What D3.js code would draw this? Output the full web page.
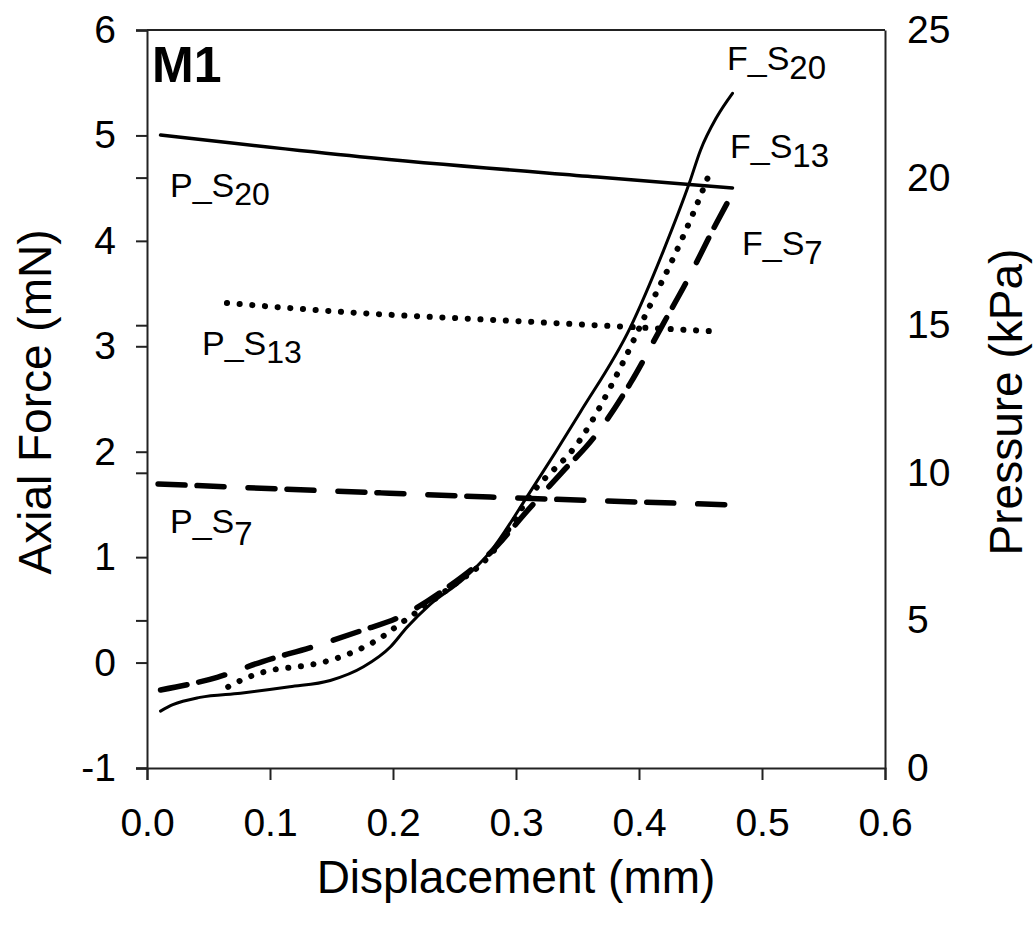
<!DOCTYPE html>
<html>
<head>
<meta charset="utf-8">
<script src="https://cdn.jsdelivr.net/npm/d3@7"></script>
<style>
  body { margin: 0; background: #fff; }
  svg { display: block; font-family: "Liberation Sans", Arial, sans-serif; }
  .axis text { fill: #000; }
</style>
</head>
<body>
<div id="chart"></div>
<script>
// displacement (mm) / axial force (mN)
var fS20x = [0.011, 0.021, 0.043, 0.076, 0.116, 0.149, 0.176, 0.198, 0.211, 0.230, 0.257, 0.279, 0.311, 0.352, 0.393, 0.420, 0.441, 0.450, 0.463, 0.476];
var fS20y = [-0.46, -0.40, -0.33, -0.29, -0.23, -0.17, -0.04, 0.15, 0.33, 0.55, 0.79, 1.05, 1.61, 2.37, 3.18, 3.91, 4.55, 4.86, 5.17, 5.40];

var fS13x = [0.066, 0.082, 0.102, 0.122, 0.142, 0.159, 0.177, 0.192, 0.199, 0.244, 0.279, 0.314, 0.352, 0.385, 0.407, 0.428, 0.444, 0.459];
var fS13y = [-0.23, -0.14, -0.07, -0.04, 0.00, 0.06, 0.15, 0.25, 0.31, 0.69, 1.02, 1.62, 2.11, 2.80, 3.34, 3.84, 4.26, 4.69];

var fS7x = [0.011, 0.057, 0.094, 0.135, 0.176, 0.203, 0.244, 0.279, 0.310, 0.337, 0.363, 0.393, 0.420, 0.439, 0.463, 0.476];
var fS7y = [-0.26, -0.14, 0.01, 0.15, 0.31, 0.42, 0.71, 1.04, 1.45, 1.80, 2.13, 2.65, 3.22, 3.62, 4.17, 4.45];

// displacement (mm) / pressure (kPa)
var pS20x = [0.011, 0.173, 0.366, 0.476];
var pS20y = [21.44, 20.71, 20.02, 19.65];
var pS13x = [0.065, 0.159, 0.300, 0.458];
var pS13y = [15.75, 15.45, 15.14, 14.80];
var pS7x = [0.009, 0.190, 0.279, 0.477];
var pS7y = [9.62, 9.32, 9.18, 8.91];

var xTicks = [0, 0.1, 0.2, 0.3, 0.4, 0.5, 0.6];
var forceTicks = [-1, 0, 1, 2, 3, 4, 5, 6];
var pressureTicks = [0, 5, 10, 15, 20, 25];

var fullWidth = 1033, fullHeight = 925;
// plot box edges in pixels
var plotLeft = 147, plotRight = 885, plotTop = 30, plotBottom = 768;

var svg = d3.select('#chart').append('svg')
  .attr('width', fullWidth)
  .attr('height', fullHeight);

var x = d3.scaleLinear().domain([0, 0.6]).range([plotLeft, plotRight]);
var yF = d3.scaleLinear().domain([-1, 6]).range([plotBottom, plotTop]);
var yP = d3.scaleLinear().domain([0, 25]).range([plotBottom, plotTop]);

var axisColor = '#222';
// plain hyphen for negatives, like the original
var intFormat = function(d) { return String(d); };

// bottom axis
var xAxis = d3.axisBottom(x)
  .tickValues(xTicks)
  .tickSize(12)
  .tickSizeOuter(12)
  .tickPadding(28)
  .tickFormat(d3.format('.1f'));
svg.append('g')
  .attr('class', 'axis')
  .attr('transform', 'translate(0,' + plotBottom + ')')
  .call(xAxis);

// left axis (force)
var yAxisF = d3.axisLeft(yF)
  .tickValues(forceTicks)
  .tickSize(11)
  .tickSizeOuter(11)
  .tickPadding(20)
  .tickFormat(intFormat);
svg.append('g')
  .attr('class', 'axis')
  .attr('transform', 'translate(' + plotLeft + ',0)')
  .call(yAxisF);

// pressure ticks sit on the left spine as well, without labels
svg.append('g')
  .attr('class', 'axis')
  .attr('transform', 'translate(' + plotLeft + ',0)')
  .call(d3.axisLeft(yP).tickValues(pressureTicks).tickSize(11).tickFormat(''))
  .select('.domain').remove();

// right axis (pressure): labels only
svg.append('g')
  .attr('class', 'axis')
  .attr('transform', 'translate(' + plotRight + ',0)')
  .call(d3.axisRight(yP).tickValues(pressureTicks).tickSize(0).tickSizeOuter(0).tickPadding(22).tickFormat(intFormat));

// top frame line
svg.append('line')
  .attr('x1', x(0)).attr('x2', x(0.6))
  .attr('y1', yF(6)).attr('y2', yF(6))
  .attr('stroke', axisColor).attr('stroke-width', 2);

svg.selectAll('.axis .domain, .axis .tick line')
  .attr('stroke', axisColor)
  .attr('stroke-width', 2);
svg.selectAll('.axis text')
  .attr('font-size', 39)
  .attr('font-family', '"Liberation Sans", Arial, sans-serif');

// axis titles
svg.append('text')
  .attr('x', (plotLeft + plotRight) / 2)
  .attr('y', 893)
  .attr('text-anchor', 'middle')
  .attr('font-size', 46)
  .text('Displacement (mm)');

svg.append('text')
  .attr('transform', 'translate(51,402) rotate(-90)')
  .attr('text-anchor', 'middle')
  .attr('font-size', 46)
  .text('Axial Force (mN)');

svg.append('text')
  .attr('transform', 'translate(1022,402) rotate(-90)')
  .attr('text-anchor', 'middle')
  .attr('font-size', 46)
  .text('Pressure (kPa)');

// lines
function pts(xs, ys) {
  return xs.map(function(d, i) { return [d, ys[i]]; });
}
var lineF = d3.line()
  .x(function(d) { return x(d[0]); })
  .y(function(d) { return yF(d[1]); })
  .curve(d3.curveMonotoneX);
var lineP = d3.line()
  .x(function(d) { return x(d[0]); })
  .y(function(d) { return yP(d[1]); })
  .curve(d3.curveMonotoneX);

var series = [
  { d: lineP(pts(pS20x, pS20y)), width: 3.5, dash: null },
  { d: lineP(pts(pS13x, pS13y)), width: 6, dash: '0.1,12.6' },
  { d: lineP(pts(pS7x, pS7y)), width: 5.5, dash: '27,12,27,24' },
  { d: lineF(pts(fS20x, fS20y)), width: 3, dash: null },
  { d: lineF(pts(fS13x, fS13y)), width: 6, dash: '0.1,12.6' },
  { d: lineF(pts(fS7x, fS7y)), width: 5.5, dash: '27,12,27,24' }
];

svg.append('g').selectAll('path')
  .data(series)
  .enter().append('path')
    .attr('d', function(d) { return d.d; })
    .attr('fill', 'none')
    .attr('stroke', '#000')
    .attr('stroke-width', function(d) { return d.width; })
    .attr('stroke-dasharray', function(d) { return d.dash; })
    .attr('stroke-linecap', 'round')
    .attr('stroke-linejoin', 'round');

// labels
var labels = [
  { x: 170, y: 197, main: 'P_S', sub: '20', dy: 8, subSize: 32 },
  { x: 202, y: 355, main: 'P_S', sub: '13', dy: 8, subSize: 32 },
  { x: 170, y: 533, main: 'P_S', sub: '7', dy: 12, subSize: 33 },
  { x: 727, y: 70, main: 'F_S', sub: '20', dy: 9, subSize: 33 },
  { x: 730, y: 158, main: 'F_S', sub: '13', dy: 9, subSize: 33 },
  { x: 742, y: 255, main: 'F_S', sub: '7', dy: 9, subSize: 33 }
];
labels.forEach(function(l) {
  var t = svg.append('text')
    .attr('x', l.x)
    .attr('y', l.y)
    .attr('font-size', 34);
  t.append('tspan').text(l.main);
  t.append('tspan').attr('dy', l.dy).attr('font-size', l.subSize).text(l.sub);
});

svg.append('text')
  .attr('x', 152)
  .attr('y', 82)
  .attr('font-size', 50)
  .attr('font-weight', 'bold')
  .text('M1');
</script>
</body>
</html>
